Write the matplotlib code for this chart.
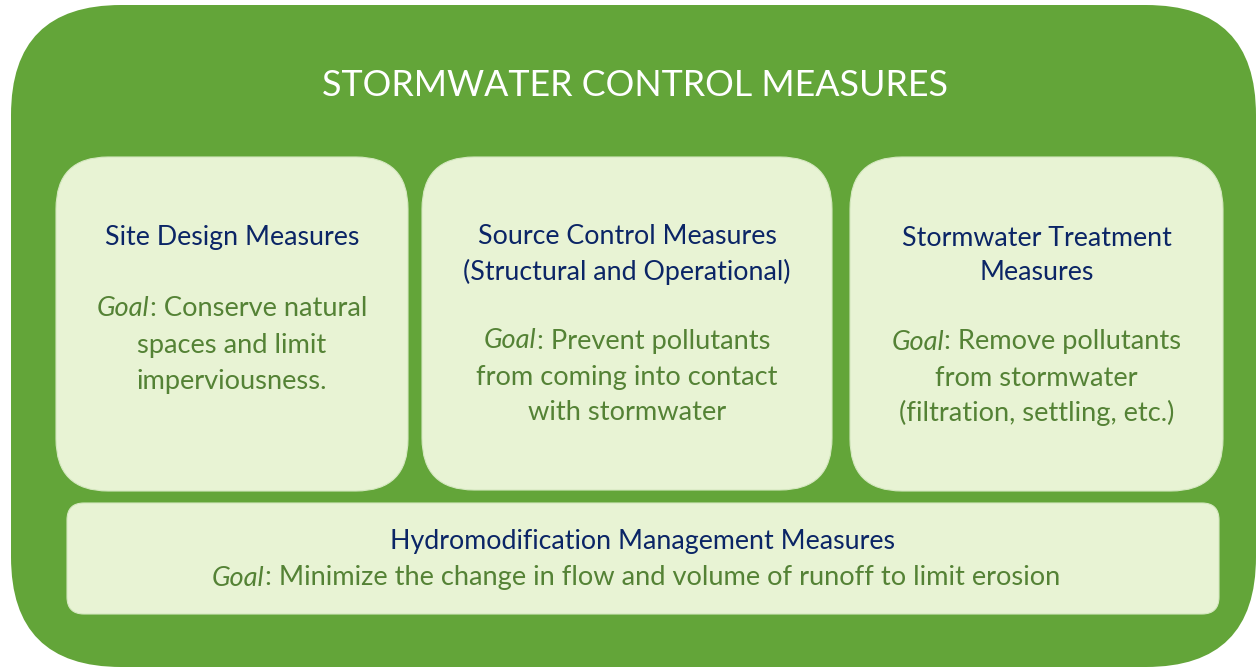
import matplotlib
matplotlib.use("Agg")
import matplotlib.pyplot as plt
from matplotlib.patches import FancyBboxPatch

# ---- content ----
title = "STORMWATER CONTROL MEASURES"
box_headings = [
    ["Site Design Measures"],
    ["Source Control Measures", "(Structural and Operational)"],
    ["Stormwater Treatment", "Measures"],
]
box_goals = [
    [": Conserve natural", "spaces and limit", "imperviousness."],
    [": Prevent pollutants", "from coming into contact", "with stormwater"],
    [": Remove pollutants", "from stormwater", "(filtration, settling, etc.)"],
]
bottom_heading = "Hydromodification Management Measures"
bottom_goal = ": Minimize the change in flow and volume of runoff to limit erosion"
goal_word = "Goal"

# ---- style ----
GREEN = "#63A539"
LIGHT = "#E8F3D4"
NAVY = "#0B2566"
TXTGREEN = "#548235"
FONT = "Lato"

W, H = 1257, 667
fig = plt.figure(figsize=(W / 100, H / 100), dpi=100)
ax = fig.add_axes([0, 0, 1, 1])
ax.set_xlim(0, W)
ax.set_ylim(H, 0)
ax.axis("off")
fig.patch.set_facecolor("white")


def rbox(x0, y0, x1, y1, r, fc, ec="none", lw=0):
    p = FancyBboxPatch((x0, y0), x1 - x0, y1 - y0,
                       boxstyle=f"round,pad=0,rounding_size={r}",
                       fc=fc, ec=ec, lw=lw, zorder=1)
    ax.add_patch(p)


rbox(11, 5, 1256, 667, 110, GREEN)
boxes = [(56, 157, 408, 491), (422, 157, 832, 490), (850, 157, 1223, 491)]
for b in boxes:
    rbox(*b, 52, LIGHT, ec="#D5E8C0", lw=0.8)
rbox(67, 503, 1219, 614, 17, LIGHT, ec="#D5E8C0", lw=0.8)

ax.text(635, 86, title, ha="center", va="center", color="white",
        fontsize=25.8, family=FONT)

renderer = fig.canvas.get_renderer()


def mixed(cx, y, rest, size):
    t1 = ax.text(0, y, goal_word, ha="left", va="center", color=TXTGREEN,
                 fontsize=size, family=FONT, style="italic")
    t2 = ax.text(0, y, rest, ha="left", va="center", color=TXTGREEN,
                 fontsize=size, family=FONT)
    w1 = t1.get_window_extent(renderer).width
    w2 = t2.get_window_extent(renderer).width
    x0 = cx - (w1 + w2) / 2
    t1.set_x(x0)
    t2.set_x(x0 + w1)


HS = 19.3
BS = 19.6
head_y = [[238], [236, 272], [238, 272]]
goal_y = [[309, 345, 381], [341, 377, 412], [342, 378, 413]]
for i, b in enumerate(boxes):
    cx = (b[0] + b[2]) / 2
    for line, y in zip(box_headings[i], head_y[i]):
        ax.text(cx, y, line, ha="center", va="center", color=NAVY,
                fontsize=HS, family=FONT)
    for j, (line, y) in enumerate(zip(box_goals[i], goal_y[i])):
        if j == 0:
            mixed(cx, y, line, BS)
        else:
            ax.text(cx, y, line, ha="center", va="center", color=TXTGREEN,
                    fontsize=BS, family=FONT)

ax.text(642, 542, bottom_heading, ha="center", va="center", color=NAVY,
        fontsize=HS, family=FONT)
mixed(636, 578, bottom_goal, BS)

fig.savefig("out.png", dpi=100, facecolor="white")
